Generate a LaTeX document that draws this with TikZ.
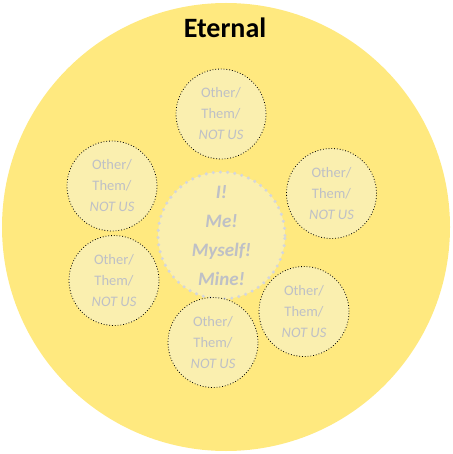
\documentclass[tikz,border=0pt]{standalone}
\usepackage{fontspec}
\setmainfont{Carlito}
\usepackage{tikz}
\usetikzlibrary{positioning}
\definecolor{eterno}{HTML}{FFE97F}
\definecolor{circulo}{HTML}{FAEFAF}
\definecolor{textogris}{HTML}{BEC0C6}
\definecolor{bordegris}{HTML}{D4D6DC}
\begin{document}
\begin{tikzpicture}[x=1pt, y=-1pt,
        eternal/.style={circle, fill=eterno, minimum size=448pt, inner sep=0pt},
        ego/.style={circle, fill=circulo, draw=bordegris, line width=3.4pt, line cap=round, dash pattern=on 0pt off 7.2pt, minimum size=127pt, inner sep=0pt, align=center, text=textogris, font=\fontsize{19}{29}\selectfont\bfseries\itshape},
        other/.style={circle, fill=circulo, draw=black, dotted, line width=0.8pt, minimum size=90pt, inner sep=0pt, align=center, text=textogris, font=\fontsize{14.5}{21}\selectfont}
    ]
    \useasboundingbox (0,0) rectangle (452,454);
    % Fondo
    \node[eternal] (eterno) at (226,227) {};
    \node[font=\fontsize{28}{32}\selectfont\bfseries] (titulo) at (225,28) {Eternal};
    % Centro
    \node[ego] (ego) at (221.5,235.5) {I!\\Me!\\Myself!\\Mine!};
    % Otros
    \node[other] (o1) at (221,114) {Other/\\Them/\\\textit{NOT US}};
    \node[other] (o2) at (331.5,193.5) {Other/\\Them/\\\textit{NOT US}};
    \node[other] (o3) at (304,311.5) {Other/\\Them/\\\textit{NOT US}};
    \node[other] (o4) at (213,342.5) {Other/\\Them/\\\textit{NOT US}};
    \node[other] (o5) at (114,280.5) {Other/\\Them/\\\textit{NOT US}};
    \node[other] (o6) at (112,186) {Other/\\Them/\\\textit{NOT US}};
\end{tikzpicture}
\end{document}
